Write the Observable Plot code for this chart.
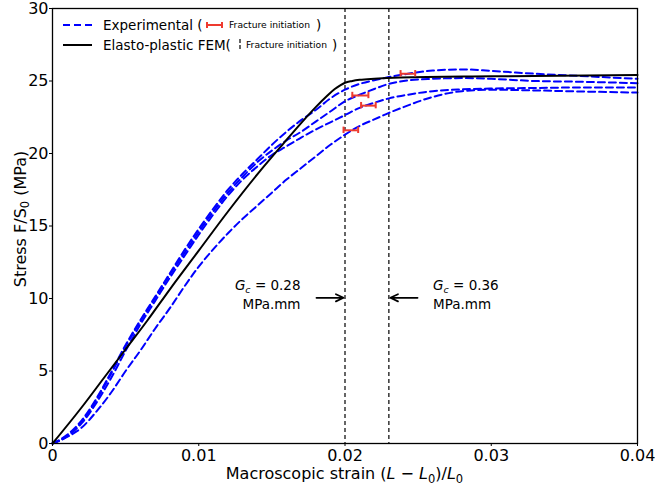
<!DOCTYPE html>
<html><head><meta charset="utf-8">
<script src="https://cdn.jsdelivr.net/npm/d3@7"></script>
<script src="https://cdn.jsdelivr.net/npm/@observablehq/plot@0.6"></script>
<style>body{margin:0;background:#fff;} #chart{width:655px;height:485px;}</style>
</head><body><div id="chart"></div>
<script>
// ---- data ----
const xTicks = [0, 0.01, 0.02, 0.03, 0.04];
const yTicks = [0, 5, 10, 15, 20, 25, 30];

const femStrain = [0,0.002,0.0035,0.005,0.0065,0.008,0.01,0.012,0.0142,0.0158,0.017,0.018,0.0188,0.0193,0.0197,0.02,0.0205,0.021,0.022,0.0238,0.03,0.04];
const femStress = [0,2.5,4.5,6.5,8.5,10.6,13.3,16.0,18.8,20.7,22.1,23.2,24.0,24.45,24.72,24.88,25.0,25.08,25.16,25.24,25.32,25.42];

const expStrain = [0,0.001,0.002,0.003,0.004,0.005,0.006,0.007,0.008,0.009,0.01,0.011,0.012,0.013,0.014,0.015,0.016,0.017,0.018,0.019,0.02,0.021,0.022,0.023,0.024,0.026,0.028,0.03,0.033,0.036,0.04];
const exp1Stress = [0,0.6,1.6,3.1,4.9,6.8,8.5,10.1,11.7,13.3,14.8,16.2,17.5,18.6,19.6,20.6,21.5,22.3,23.0,23.8,24.4,24.8,25.05,25.27,25.45,25.72,25.8,25.7,25.5,25.35,25.15];
const exp2Stress = [0,0.5,1.5,3.0,4.8,6.7,8.4,10.0,11.6,13.1,14.6,16.0,17.3,18.4,19.4,20.2,20.9,21.5,22.2,22.9,23.6,24.05,24.45,24.8,25.0,25.15,25.2,25.15,25.0,24.95,24.85];
const exp3Stress = [0,0.5,1.4,2.8,4.5,6.4,8.2,9.8,11.4,12.9,14.4,15.8,17.1,18.2,19.1,19.9,20.5,21.1,21.65,22.15,22.65,23.15,23.5,23.8,24.0,24.3,24.42,24.48,24.52,24.55,24.55];
const exp4Stress = [0,0.45,1.1,2.2,3.5,5.0,6.4,7.9,9.3,10.8,12.2,13.4,14.5,15.5,16.4,17.3,18.2,19.0,19.8,20.6,21.3,21.9,22.35,22.8,23.2,23.9,24.3,24.4,24.35,24.28,24.2];

// fracture initiation ranges on experimental curves
const fracStart = [0.0238, 0.0205, 0.0211, 0.0199];
const fracEnd   = [0.0248, 0.0216, 0.0221, 0.0209];
const fracStress = [25.5, 24.0, 23.3, 21.6];

// FEM fracture initiation strains
const femFracture = [0.02, 0.023];
const gcValues = ["0.28", "0.36"];

// ---- build tables ----
const fem = femStrain.map((x, i) => ({x, y: femStress[i]}));
const expSeries = [exp1Stress, exp2Stress, exp3Stress, exp4Stress];
const exp = expSeries.flatMap((s, k) => expStrain.map((x, i) => ({x, y: s[i], series: k})));
const frac = fracStart.map((x1, i) => ({x1, x2: fracEnd[i], y: fracStress[i]}));
const fracCaps = frac.flatMap(d => [{x: d.x1, y: d.y}, {x: d.x2, y: d.y}]);

const annotLeft = [
  {x: 0.01696, y: 10.9, text: "Gc = " + gcValues[0]},
  {x: 0.01696, y: 9.6, text: "MPa.mm"}
];
const annotRight = [
  {x: 0.02602, y: 10.9, text: "Gc = " + gcValues[1]},
  {x: 0.02602, y: 9.6, text: "MPa.mm"}
];
const arrows = [
  {x1: 0.01805, x2: femFracture[0] - 0.0001, y: 10.05},
  {x1: 0.02496, x2: femFracture[1] + 0.0001, y: 10.05}
];

const RED = "#ee3a2f";
const BLUE = "#0000ff";

const plot = Plot.plot({
  width: 655, height: 485,
  marginLeft: 52, marginRight: 18, marginTop: 8, marginBottom: 42,
  style: {fontFamily: "DejaVu Sans", fontSize: "16px", color: "#000", background: "#fff"},
  x: {domain: [0, 0.04]},
  y: {domain: [0, 30]},
  marks: [
    Plot.ruleX(femFracture, {stroke: "black", strokeWidth: 1.2, strokeDasharray: "4,3"}),
    Plot.line(exp, {x: "x", y: "y", z: "series", stroke: BLUE, strokeWidth: 2, strokeDasharray: "7,4", curve: "monotone-x"}),
    Plot.line(fem, {x: "x", y: "y", stroke: "black", strokeWidth: 2, curve: "monotone-x"}),
    Plot.ruleY(frac, {x1: "x1", x2: "x2", y: "y", stroke: RED, strokeWidth: 2}),
    Plot.ruleX(fracCaps, {x: "x", y1: d => d.y - 0.22, y2: d => d.y + 0.22, stroke: RED, strokeWidth: 2}),
    Plot.arrow(arrows, {x1: "x1", x2: "x2", y1: "y", y2: "y", stroke: "black", strokeWidth: 1.8, headLength: 7, headAngle: 50}),
    Plot.text(annotLeft, {x: "x", y: "y", text: "text", textAnchor: "end", fontSize: 13.5, fill: "black"}),
    Plot.text(annotRight, {x: "x", y: "y", text: "text", textAnchor: "start", fontSize: 13.5, fill: "black"}),
    Plot.axisX({ticks: xTicks, tickSize: 3, tickPadding: 3, tickFormat: d => d === 0 ? "0" : d3.format(".2f")(d), label: null, fontSize: 16}),
    Plot.axisY({ticks: yTicks, tickSize: 3, tickPadding: 1, tickFormat: d => String(d), label: null, fontSize: 16}),
    Plot.frame({stroke: "black", strokeWidth: 1.3})
  ]
});

document.getElementById("chart").appendChild(plot);
const svg = d3.select(plot);

// Rich text for G_c labels
plot.querySelectorAll("text").forEach(t => {
  const s = t.textContent;
  if (s.startsWith("Gc = ")) {
    const rest = s.slice(2);
    t.textContent = "";
    const sel = d3.select(t);
    sel.append("tspan").attr("font-style", "italic").text("G");
    sel.append("tspan").attr("font-style", "italic").attr("font-size", "9.5px").attr("dy", 3).text("c");
    sel.append("tspan").attr("dy", -3).text(rest);
  }
});

// Axis labels
const yl = svg.append("text")
  .attr("transform", "translate(21,219) rotate(-90)")
  .attr("text-anchor", "middle").attr("dominant-baseline", "middle")
  .attr("font-family", "DejaVu Sans").attr("font-size", 16).attr("fill", "black");
yl.append("tspan").text("Stress F/S");
yl.append("tspan").attr("font-size", 11.5).attr("dy", 4).text("0");
yl.append("tspan").attr("dy", -4).text(" (MPa)");

const xl = svg.append("text")
  .attr("x", 344.5).attr("y", 479)
  .attr("text-anchor", "middle")
  .attr("font-family", "DejaVu Sans").attr("font-size", 16).attr("fill", "black");
xl.append("tspan").text("Macroscopic strain (");
xl.append("tspan").attr("font-style", "italic").text("L");
xl.append("tspan").text(" \u2212 ");
xl.append("tspan").attr("font-style", "italic").text("L");
xl.append("tspan").attr("font-size", 11.5).attr("dy", 4).text("0");
xl.append("tspan").attr("dy", -4).text(")/");
xl.append("tspan").attr("font-style", "italic").text("L");
xl.append("tspan").attr("font-size", 11.5).attr("dy", 4).text("0");

// Legend
const lg = svg.append("g").attr("font-family", "DejaVu Sans").attr("fill", "black").attr("text-anchor", "start");
lg.append("line").attr("x1", 63).attr("x2", 92).attr("y1", 25).attr("y2", 25)
  .attr("stroke", BLUE).attr("stroke-width", 2).attr("stroke-dasharray", "7,4");
lg.append("text").attr("x", 103).attr("y", 25).attr("dy", "0.35em").attr("font-size", 13.5).text("Experimental (");
lg.append("line").attr("x1", 207).attr("x2", 222).attr("y1", 25).attr("y2", 25).attr("stroke", RED).attr("stroke-width", 2);
lg.append("line").attr("x1", 207).attr("x2", 207).attr("y1", 22).attr("y2", 28).attr("stroke", RED).attr("stroke-width", 2);
lg.append("line").attr("x1", 222).attr("x2", 222).attr("y1", 22).attr("y2", 28).attr("stroke", RED).attr("stroke-width", 2);
lg.append("text").attr("x", 229).attr("y", 25).attr("dy", "0.35em").attr("font-size", 9.2).text("Fracture initiation");
lg.append("text").attr("x", 316).attr("y", 25).attr("dy", "0.35em").attr("font-size", 13.5).text(")");

lg.append("line").attr("x1", 63).attr("x2", 92).attr("y1", 45).attr("y2", 45)
  .attr("stroke", "black").attr("stroke-width", 2);
lg.append("text").attr("x", 103).attr("y", 45).attr("dy", "0.35em").attr("font-size", 13.5).text("Elasto-plastic FEM(");
lg.append("line").attr("x1", 240).attr("x2", 240).attr("y1", 39).attr("y2", 51)
  .attr("stroke", "black").attr("stroke-width", 1.2).attr("stroke-dasharray", "4,2");
lg.append("text").attr("x", 246).attr("y", 45).attr("dy", "0.35em").attr("font-size", 9.2).text("Fracture initiation");
lg.append("text").attr("x", 332).attr("y", 45).attr("dy", "0.35em").attr("font-size", 13.5).text(")");
</script>
</body></html>
